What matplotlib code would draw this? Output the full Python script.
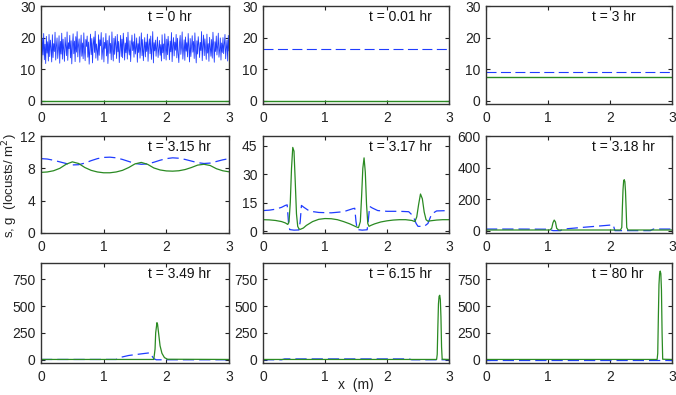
import numpy as np
import matplotlib
matplotlib.use('Agg')
import matplotlib.pyplot as plt

plt.rcParams['font.family'] = ['Liberation Sans', 'DejaVu Sans']
plt.rcParams['font.size'] = 8.5

BLUE = '#1f3cff'
GREEN = '#2a8a22'

titles = ['t = 0 hr', 't = 0.01 hr', 't = 3 hr',
          't = 3.15 hr', 't = 3.17 hr', 't = 3.18 hr',
          't = 3.49 hr', 't = 6.15 hr', 't = 80 hr']

# t = 0 : noisy initial s, g = 0
s0 = [16.2, 12.1, 19.8, 14.5, 21.3, 13.0, 17.9, 11.8, 20.4, 15.1, 18.7, 12.6, 21.0, 14.0, 19.2,
      16.8, 12.3, 20.9, 13.7, 18.1, 15.6, 21.7, 12.9, 17.3, 19.9, 13.4, 16.1, 20.6, 11.9, 18.8,
      14.8, 21.4, 13.2, 19.5, 15.9, 12.5, 20.1, 17.0, 14.3, 21.8, 12.8, 18.4, 16.5, 20.7, 13.6,
      19.0, 11.7, 17.6, 21.2, 14.9, 18.9, 12.4, 20.3, 15.4, 21.9, 13.9, 17.7, 19.6, 12.2, 16.9,
      20.8, 14.1, 18.3, 13.3, 21.5, 15.8, 12.7, 19.4, 17.2, 20.5, 13.8, 18.6, 11.6, 16.4, 21.1,
      14.6, 19.7, 12.0, 17.8, 20.2, 15.3, 22.0, 13.5, 18.0, 16.0, 12.8, 20.9, 14.4, 19.3, 17.4,
      21.6, 13.1, 15.7, 20.0, 12.3, 18.5, 16.6, 21.3, 14.2, 19.1, 11.8, 17.1, 20.6, 15.0, 18.2,
      13.0, 21.8, 16.3, 12.6, 19.8, 14.7, 20.4, 17.5, 13.4, 21.0, 15.5, 18.8, 12.1, 16.7, 20.7,
      14.0, 19.5, 13.6, 21.4, 17.9, 12.9, 18.3, 15.2, 20.1, 13.2, 21.7, 16.1, 14.5, 19.0, 12.4,
      17.6, 20.8, 15.9, 18.7, 13.8, 21.2, 14.8, 16.8, 19.9, 12.2, 18.1, 15.3, 20.3, 13.5, 17.0,
      21.5, 14.3, 19.4, 12.7, 16.2, 20.0, 13.9, 18.6, 15.6, 21.1, 12.5, 17.7, 19.6, 14.9, 20.5,
      13.1, 16.6, 21.9, 12.0, 18.4, 15.8, 19.2, 14.1, 17.3, 20.2, 13.7, 16.4,
      19.1, 14.4, 17.8, 12.6, 20.9, 15.2, 18.0, 13.3, 21.2, 16.7, 12.9, 19.5, 14.6, 20.4, 17.1,
      13.0, 18.9, 15.5, 21.6, 12.4, 17.4, 20.0, 14.2, 18.6, 16.0, 21.0, 13.6, 19.8, 15.0, 12.1,
      18.2, 20.7, 14.7, 17.0, 21.8, 13.2, 16.5, 19.3, 12.8, 20.2, 15.7, 18.4, 13.9, 21.3, 16.9,
      12.3, 19.7, 14.0, 17.5, 20.6, 15.4, 18.8, 13.4, 21.5, 16.2, 12.0, 19.0, 14.8, 20.3, 17.7,
      13.7, 18.5, 15.9, 21.9, 12.7, 17.2, 20.8, 14.3, 19.6, 16.4, 13.1, 21.1, 15.1, 18.1, 12.5,
      20.1, 16.8, 14.1, 19.4, 13.5, 21.7, 17.6, 12.2, 18.7, 15.6, 20.5, 14.5, 17.3, 21.4, 13.8,
      16.1, 19.9, 12.9, 18.3, 15.3, 20.0, 14.9, 17.9, 21.0, 13.3, 16.6, 19.2, 12.6, 20.7, 15.8]
s0_x = np.linspace(0, 3, len(s0))

# t = 0.01 and t = 3 : flat profiles
flat_x = [0, 3]
s1 = [16.5, 16.5]
g1 = [0, 0]
s2 = [9.1, 9.1]
g2 = [7.5, 7.5]

# t = 3.15
x3 = np.arange(31) * 0.1
s3 = [9.2, 9.15, 9.0, 8.8, 8.6, 8.42, 8.45, 8.65, 8.95, 9.2, 9.35, 9.38, 9.3, 9.1, 8.85, 8.6,
      8.5, 8.55, 8.75, 9.0, 9.2, 9.3, 9.25, 9.1, 8.9, 8.7, 8.6, 8.65, 8.85, 9.05, 9.2]
g3 = [7.5, 7.55, 7.7, 8.0, 8.5, 8.8, 8.6, 8.1, 7.75, 7.55, 7.45, 7.45, 7.55, 7.75, 8.1, 8.55,
      8.73, 8.5, 8.05, 7.8, 7.68, 7.65, 7.7, 7.85, 8.1, 8.4, 8.5, 8.35, 7.95, 7.7, 7.57]

# t = 3.17
s4_x = [0, 0.1, 0.2, 0.3, 0.36, 0.39, 0.41, 0.43, 0.5, 0.58, 0.60, 0.62, 0.66, 0.75, 0.9, 1.1,
        1.3, 1.45, 1.48, 1.50, 1.52, 1.6, 1.68, 1.70, 1.72, 1.76, 1.85, 2.0, 2.2, 2.35, 2.42,
        2.47, 2.5, 2.6, 2.66, 2.72, 2.8, 3.0]
s4 = [10.8, 11.0, 11.5, 12.5, 13.5, 13.8, 5, 0.8, 0.5, 0.6, 5, 13.5, 12.5, 10.5, 9.8, 9.6,
      10.2, 11.8, 12.0, 5, 0.8, 0.5, 0.7, 6, 13, 12.2, 10.8, 10.4, 10.4, 10.2, 8,
      4, 2.5, 2.5, 4, 9, 10.6, 10.8]
g4_x = [0, 0.1, 0.2, 0.3, 0.36, 0.40, 0.42, 0.44, 0.46, 0.48, 0.50, 0.52, 0.54, 0.56, 0.58,
        0.60, 0.65, 0.7, 0.8, 0.9, 1.0, 1.1, 1.2, 1.3, 1.4, 1.5, 1.54, 1.57, 1.59, 1.61, 1.63,
        1.65, 1.67, 1.69, 1.71, 1.74, 1.8, 1.9, 2.0, 2.1, 2.2, 2.3, 2.4, 2.45, 2.48, 2.51, 2.54,
        2.57, 2.60, 2.63, 2.66, 2.7, 2.8, 2.9, 3.0]
g4 = [6.0, 5.9, 5.6, 5.0, 4.3, 3.5, 5, 15, 33, 44, 42, 26, 9, 2.5, 1.2,
      0.9, 1.6, 3.0, 5.0, 6.2, 6.6, 6.5, 6.0, 5.0, 3.8, 2.3, 1.8, 5, 18, 33, 38.5,
      31, 14, 4, 2.5, 3.0, 3.8, 4.8, 5.4, 5.8, 6.0, 6.0, 5.6, 5.0, 7.5, 14, 19.5,
      17, 10, 6.0, 5.2, 5.4, 5.8, 6.0, 6.0]

# t = 3.18
s5_x = [0, 0.5, 1.0, 1.05, 1.08, 1.2, 1.25, 1.6, 2.0, 2.05, 2.08, 2.4, 2.65, 2.7, 3.0]
s5 = [10, 10, 9, 4, 0, 0, 10, 22, 35, 38, 0, 0, 0, 10, 10]
g5_x = [0, 1.03, 1.06, 1.08, 1.10, 1.12, 1.14, 1.17, 2.17, 2.19, 2.20, 2.21, 2.22, 2.23,
        2.24, 2.25, 2.26, 2.27, 2.29, 3.0]
g5 = [4, 4, 15, 50, 67, 55, 15, 4, 4, 20, 150, 260, 315, 323, 310, 250, 140, 20, 4, 4]

# t = 3.49
s6_x = [0, 1.2, 1.25, 1.4, 1.6, 1.74, 1.76, 1.80, 1.84, 1.9, 3.0]
s6 = [3, 3, 20, 40, 55, 65, 45, 10, 0, 0, 0]
g6_x = [0, 1.80, 1.82, 1.83, 1.85, 1.86, 1.88, 1.90, 1.93, 1.97, 2.02, 3.0]
g6 = [3, 3, 100, 250, 345, 330, 230, 130, 60, 20, 5, 3]

# t = 6.15
s7_x = [0, 0.3, 0.35, 2.35, 2.4, 3.0]
s7 = [0, 0, 8, 8, 0, 0]
g7_x = [0, 2.80, 2.81, 2.82, 2.83, 2.84, 2.85, 2.86, 2.87, 2.88, 2.89, 3.0]
g7 = [3, 3, 50, 300, 520, 590, 600, 560, 400, 120, 5, 3]

# t = 80
s8_x = [0, 3.0]
s8 = [0, 0]
g8_x = [0, 2.76, 2.77, 2.78, 2.79, 2.80, 2.81, 2.82, 2.83, 2.84, 2.85, 3.0]
g8 = [3, 3, 60, 400, 700, 800, 825, 800, 650, 250, 5, 3]

ylims = [(-1, 30), (-1, 30), (-1, 30),
         (0, 12), (-1, 50), (-15, 600),
         (-30, 900), (-30, 900), (-30, 900)]
yticks = [[0, 10, 20, 30]] * 3 + [[0, 4, 8, 12], [0, 15, 30, 45], [0, 200, 400, 600]] + \
         [[0, 250, 500, 750]] * 3

W, H = 676, 395
fig = plt.figure(figsize=(W / 100, H / 100), dpi=100)

lefts = [41, 263, 486]
widths = [188, 186, 186]
tops = [6, 136, 263]
bottoms = [104, 233, 363]

axes = []
for r in range(3):
    for c in range(3):
        ax = fig.add_axes([lefts[c] / W, 1 - bottoms[r] / H,
                           widths[c] / W, (bottoms[r] - tops[r]) / H])
        axes.append(ax)

# draw curves
axes[0].plot(s0_x, s0, '-', color=BLUE, lw=0.6)
axes[0].plot(flat_x, [0, 0], '-', color=GREEN, lw=1)
axes[1].plot(flat_x, s1, '--', color=BLUE, lw=0.8, dashes=(9, 4))
axes[1].plot(flat_x, g1, '-', color=GREEN, lw=1)
axes[2].plot(flat_x, s2, '--', color=BLUE, lw=0.8, dashes=(9, 4))
axes[2].plot(flat_x, g2, '-', color=GREEN, lw=1)
axes[3].plot(x3, s3, '--', color=BLUE, lw=0.9, dashes=(9, 4))
axes[3].plot(x3, g3, '-', color=GREEN, lw=0.9)
axes[4].plot(s4_x, s4, '--', color=BLUE, lw=0.9, dashes=(9, 4))
axes[4].plot(g4_x, g4, '-', color=GREEN, lw=0.9)
axes[5].plot(s5_x, s5, '--', color=BLUE, lw=0.9, dashes=(9, 4))
axes[5].plot(g5_x, g5, '-', color=GREEN, lw=0.9)
axes[6].plot(s6_x, s6, '--', color=BLUE, lw=0.9, dashes=(9, 4))
axes[6].plot(g6_x, g6, '-', color=GREEN, lw=0.9)
axes[7].plot(s7_x, s7, '--', color=BLUE, lw=0.9, dashes=(9, 4))
axes[7].plot(g7_x, g7, '-', color=GREEN, lw=0.9)
axes[8].plot(s8_x, s8, '--', color=BLUE, lw=0.9, dashes=(9, 4))
axes[8].plot(g8_x, g8, '-', color=GREEN, lw=0.9)

for i, ax in enumerate(axes):
    ax.set_xlim(0, 3)
    ax.set_ylim(*ylims[i])
    ax.set_xticks([0, 1, 2, 3])
    ax.set_yticks(yticks[i])
    ax.tick_params(direction='in', length=3, width=0.8, top=True, right=True,
                   labelsize=10, colors='#222222')
    ax.tick_params(axis='x', pad=5)
    ax.tick_params(axis='y', pad=4)
    for sp in ax.spines.values():
        sp.set_linewidth(1.0)
        sp.set_color('#333333')
    ax.text(0.57, 0.89, titles[i], transform=ax.transAxes, ha='left', va='center',
            fontsize=10, color='#111111')

# axis labels placed by hand (pixels from top-left)
fig.text(10 / W, 1 - 186 / H, 's, g  (locusts/ m$^2$)', rotation=90,
         ha='center', va='center', fontsize=9.5, color='#222222')
fig.text(356 / W, 1 - 385 / H, 'x  (m)', ha='center', va='center',
         fontsize=10, color='#222222')

plt.savefig('out.png', dpi=100)
